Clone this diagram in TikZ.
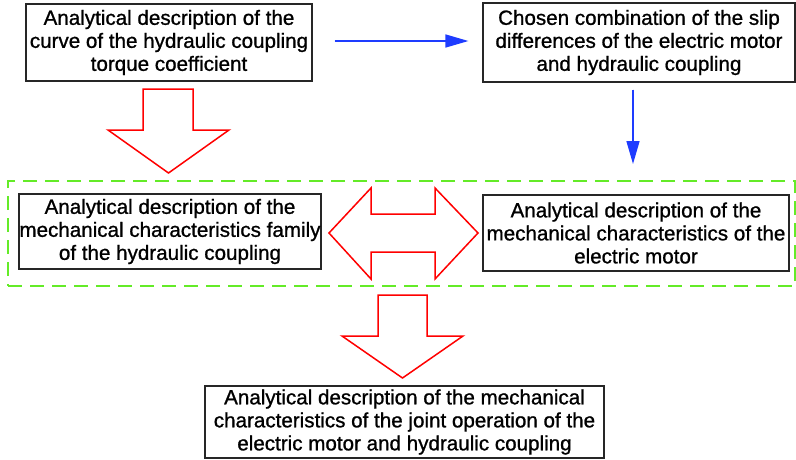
\documentclass[tikz,border=0pt]{standalone}
\usepackage{fontspec}
\setmainfont{Liberation Sans}
\newfontfamily\boxfont{Liberation Sans}[BoldFont={Liberation Sans}, BoldFeatures={FakeBold=1}]
\usetikzlibrary{arrows.meta}
\definecolor{flowblue}{RGB}{30,60,255}
\definecolor{groupgreen}{RGB}{100,235,40}

\begin{document}
\begin{tikzpicture}[x=1pt, y=-1pt,
  box/.style={draw=black!85, line width=1.2pt, inner sep=0pt, align=center, font=\boxfont\bfseries\fontsize{20.6}{23}\selectfont},
  bluearrow/.style={draw=flowblue, fill=flowblue, line width=1.5pt, -{Triangle[length=23pt, width=13pt]}},
  blockarrow/.style={draw=red, line width=1.5pt, line join=miter},
  groupframe/.style={draw=groupgreen, line width=2pt, dash pattern=on 14pt off 8pt, inner sep=0pt}]
\useasboundingbox (0,0) rectangle (796,459);

\node[box, minimum width=286pt, minimum height=77pt](torque) at (169,42.5) {Analytical description of the\\curve of the hydraulic coupling\\torque coefficient};
\node[box, minimum width=312pt, minimum height=79pt](slip) at (639,42.5) {Chosen combination of the slip\\differences of the electric motor\\and hydraulic coupling};
\node[box, minimum width=302pt, minimum height=75pt](family) at (170,231.5) {Analytical description of the\\mechanical characteristics family\\of the hydraulic coupling};
\node[box, minimum width=306pt, minimum height=76pt](motor) at (636,233) {Analytical description of the\\mechanical characteristics of the\\electric motor};
\node[box, minimum width=399pt, minimum height=72pt](joint) at (404.5,422) {Analytical description of the mechanical\\characteristics of the joint operation of the\\electric motor and hydraulic coupling};

\node[groupframe, minimum width=787pt, minimum height=105pt](group) at (401.5,233.5) {};

\draw[bluearrow, shorten <=22pt, shorten >=14pt] ([yshift=1.5pt]torque.east) -- ([yshift=1.5pt]slip.west);
\draw[bluearrow, shorten <=7pt, shorten >=16pt] ([xshift=-6pt]slip.south) -- ([xshift=-6pt]slip.south |- group.north);

\draw[blockarrow] (143,89) -- (193,89) -- (193,130) -- (229,130) -- (168.5,173) -- (108,130) -- (143,130) -- cycle;
\draw[blockarrow] (329,233) -- (371,188) -- (371,214) -- (435,214) -- (435,188) -- (478,233) -- (435,279) -- (435,252) -- (371,252) -- (371,279) -- cycle;
\draw[blockarrow] (378,295) -- (427,295) -- (427,336) -- (463,336) -- (402.5,378) -- (342,336) -- (378,336) -- cycle;
\end{tikzpicture}
\end{document}
